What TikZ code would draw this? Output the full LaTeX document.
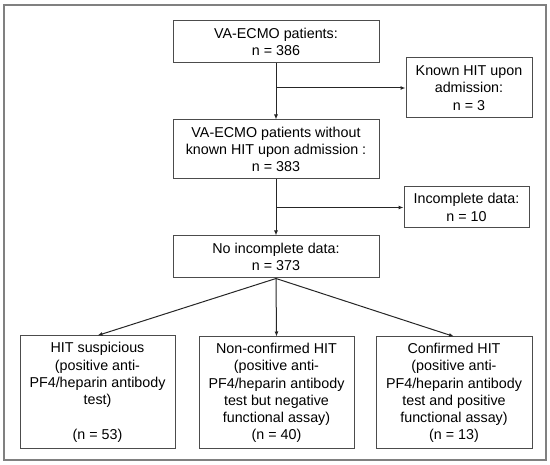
\documentclass[tikz,border=0pt]{standalone}
\usepackage{fontspec}
\setmainfont{Liberation Sans}
\usepackage{tikz}
\usetikzlibrary{arrows.meta}

\tikzset{
  flowbox/.style={draw=black!70, line width=1pt, fill=white, align=center, inner sep=0pt,
    font=\fontsize{14.3}{17.3}\selectfont},
  flowline/.style={line width=1pt, draw=black!85}
}

\begin{document}
\begin{tikzpicture}[x=1pt,y=-1pt,>={Latex[length=5pt,width=4pt]}]
  \useasboundingbox (0,0) rectangle (550,465);
  \draw[black!50, line width=1.5pt] (4,5) rectangle (546,460);
  \node[flowbox, minimum width=206pt, minimum height=42pt] (total) at (276,42)
    {VA-ECMO patients:\\n = 386};
  \node[flowbox, minimum width=126pt, minimum height=60pt] (known) at (469,88)
    {Known HIT upon\\admission:\\n = 3};
  \node[flowbox, minimum width=206pt, minimum height=59pt] (noknown) at (276,149.5)
    {VA-ECMO patients without\\known HIT upon admission :\\n = 383};
  \node[flowbox, minimum width=125pt, minimum height=41pt] (incompl) at (466.5,207.5)
    {Incomplete data:\\n = 10};
  \node[flowbox, minimum width=206pt, minimum height=42pt] (complete) at (276,257)
    {No incomplete data:\\n = 373};
  \node[flowbox, minimum width=155pt, minimum height=113pt] (suspic) at (97.5,392.5)
    {HIT suspicious\\(positive anti-\\PF4/heparin antibody\\test)\\[17.3pt](n = 53)};
  \node[flowbox, minimum width=155pt, minimum height=112pt] (nonconf) at (276.5,393)
    {Non-confirmed HIT\\(positive anti-\\PF4/heparin antibody\\test but negative\\functional assay)\\(n = 40)};
  \node[flowbox, minimum width=156pt, minimum height=112pt] (conf) at (454,393)
    {Confirmed HIT\\(positive anti-\\PF4/heparin antibody\\test and positive\\functional assay)\\(n = 13)};

  \draw[flowline,->] (total) -- (noknown);
  \draw[flowline,->] (total.south |- known.west) -- (known.west);
  \draw[flowline,->] (noknown) -- (complete);
  \draw[flowline,->] (noknown.south |- incompl.west) -- (incompl.west);
  \draw[flowline,->] (complete.south) -- (suspic.north);
  \draw[flowline,->] (complete.south) -- (nonconf.north);
  \draw[flowline,->] (complete.south) -- (conf.north);
\end{tikzpicture}
\end{document}
